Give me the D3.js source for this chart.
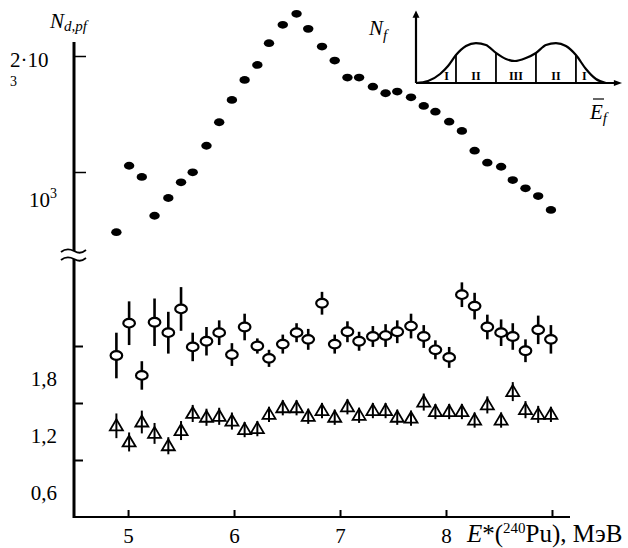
<!DOCTYPE html>
<html>
<head>
<meta charset="utf-8">
<script src="https://cdn.jsdelivr.net/npm/d3@7"></script>
<style>
  body { margin: 0; background: #fff; }
  svg { display: block; }
  text { font-family: "Liberation Serif", "Times New Roman", serif; fill: #000; }
</style>
</head>
<body>
<div id="chart"></div>
<script>
const SVG_WIDTH = 628;
const SVG_HEIGHT = 548;

// excitation energy of 240Pu, MeV (shared by all three series)
const ENERGY = [4.89, 5.01, 5.13, 5.25, 5.38, 5.50, 5.61, 5.74, 5.86, 5.98,
                6.10, 6.22, 6.33, 6.46, 6.59, 6.70, 6.83, 6.95, 7.07, 7.18,
                7.31, 7.43, 7.54, 7.67, 7.79, 7.90, 8.03, 8.15, 8.27, 8.39,
                8.52, 8.63, 8.75, 8.87, 8.99];

// upper panel (log scale), filled dots
const N_DPF = [698, 1038, 971, 770, 856, 940, 998, 1170, 1346, 1538,
               1734, 1896, 2159, 2409, 2573, 2352, 2116, 1946, 1758, 1758,
               1665, 1601, 1617, 1562, 1484, 1434, 1351, 1278, 1136, 1057,
               1032, 953, 907, 866, 797];

// lower panel, open circles
const CIRCLE_VAL = [2.30, 2.64, 2.09, 2.65, 2.54, 2.79, 2.39, 2.45, 2.54, 2.31,
                    2.60, 2.40, 2.27, 2.42, 2.54, 2.47, 2.85, 2.42, 2.55, 2.45,
                    2.50, 2.51, 2.55, 2.61, 2.50, 2.36, 2.28, 2.94, 2.82, 2.60,
                    2.54, 2.50, 2.35, 2.57, 2.47];
const CIRCLE_ERR = [0.24, 0.23, 0.15, 0.25, 0.22, 0.23, 0.15, 0.15, 0.13, 0.12,
                    0.14, 0.08, 0.09, 0.10, 0.10, 0.11, 0.12, 0.10, 0.11, 0.10,
                    0.11, 0.12, 0.12, 0.13, 0.12, 0.10, 0.11, 0.13, 0.14, 0.13,
                    0.14, 0.14, 0.12, 0.15, 0.15];

// lower panel, open triangles
const TRI_VAL = [1.56, 1.39, 1.60, 1.48, 1.35, 1.51, 1.69, 1.65, 1.66, 1.61,
                 1.52, 1.53, 1.68, 1.75, 1.75, 1.66, 1.72, 1.65, 1.76, 1.67,
                 1.72, 1.72, 1.65, 1.64, 1.81, 1.71, 1.71, 1.71, 1.62, 1.78,
                 1.62, 1.92, 1.73, 1.68, 1.68];
const TRI_ERR = [0.13, 0.10, 0.12, 0.11, 0.09, 0.10, 0.09, 0.09, 0.09, 0.09,
                 0.08, 0.08, 0.08, 0.08, 0.08, 0.08, 0.08, 0.08, 0.08, 0.08,
                 0.08, 0.08, 0.08, 0.08, 0.09, 0.08, 0.08, 0.08, 0.08, 0.09,
                 0.08, 0.10, 0.09, 0.09, 0.08];

const X_TICKS = [5, 6, 7, 8, 9];
const X_LABELS = ["5", "6", "7", "8", ""];
const UPPER_TICKS = [1000, 2000];
const LOWER_TICKS = [1.2, 1.8, 2.4];
const LOWER_LABELS = [0.6, 1.2, 1.8];

// inset: schematic fission yield N_f vs E_f, with zones I-II-III-II-I
const INSET_E = [0, 5.9, 11.8, 15.7, 19.6, 24.5, 29.4, 34.3, 39.2, 44.1, 48.5,
                 53.9, 58.8, 63.7, 68.6, 73.5, 78.4, 83.3, 88.2, 93.1];
const INSET_N = [0, 2.8, 12.7, 23.9, 39.4, 52.1, 56.3, 53.5, 42.3, 33.8, 31.0,
                 35.2, 42.3, 53.5, 56.3, 52.1, 39.4, 19.7, 5.6, 0];
const INSET_DIVIDERS = [19.6, 39.2, 58.8, 78.4];
const INSET_ZONES = ["I", "II", "III", "II", "I"];
const INSET_ZONE_E = [15, 29.4, 49, 68.6, 82.5];

const svg = d3.select("#chart")
    .append("svg")
    .attr("width", SVG_WIDTH)
    .attr("height", SVG_HEIGHT);

const AXIS_X = 74;
const BASE_Y = 517;

const x = d3.scaleLinear().domain([4.49, 9.17]).range([AXIS_X, 570]);
const yUp = d3.scaleLog().domain([1000, 2000]).range([172, 56]);
const yLow = d3.scaleLinear().domain([0.6, 2.4]).range([BASE_Y, 346]);

// axes lines
svg.append("line")
    .attr("x1", AXIS_X).attr("x2", AXIS_X)
    .attr("y1", 42).attr("y2", 251)
    .attr("stroke", "#000").attr("stroke-width", 3);
svg.append("line")
    .attr("x1", AXIS_X).attr("x2", AXIS_X)
    .attr("y1", 259).attr("y2", BASE_Y + 1)
    .attr("stroke", "#000").attr("stroke-width", 3);
svg.append("line")
    .attr("x1", AXIS_X).attr("x2", 570)
    .attr("y1", BASE_Y).attr("y2", BASE_Y)
    .attr("stroke", "#000").attr("stroke-width", 2);

// axis break marks
[251, 259].forEach(yy => {
    svg.append("path")
        .attr("d", `M61,${yy + 1} C66,${yy - 3} 70,${yy - 2} 74,${yy} S81,${yy + 3} 86,${yy - 1}`)
        .attr("fill", "none").attr("stroke", "#000").attr("stroke-width", 1.8);
});

// x axis ticks + labels
const xAxis = svg.append("g")
    .attr("transform", `translate(0,${BASE_Y})`)
    .call(d3.axisBottom(x).tickValues(X_TICKS).tickSize(-7).tickPadding(11)
        .tickFormat((d, i) => X_LABELS[i]));
xAxis.select(".domain").remove();
xAxis.selectAll(".tick line").attr("stroke-width", 2);
xAxis.selectAll(".tick text")
    .style("font-family", "'Liberation Serif', serif")
    .style("font-size", "21px");

const xTitle = svg.append("text")
    .attr("x", 467).attr("y", 542)
    .style("font-size", "25px");
xTitle.append("tspan").style("font-style", "italic").text("E");
xTitle.append("tspan").text("*(");
xTitle.append("tspan").attr("dy", -9).style("font-size", "15px").text("240");
xTitle.append("tspan").attr("dy", 9).text("Pu), МэВ");

// upper y ticks
const upAxis = svg.append("g")
    .attr("transform", `translate(${AXIS_X},0)`)
    .call(d3.axisLeft(yUp).tickValues(UPPER_TICKS).tickSize(-12).tickFormat(""));
upAxis.select(".domain").remove();
upAxis.selectAll(".tick line").attr("stroke-width", 1.5);

// lower y ticks
const lowAxis = svg.append("g")
    .attr("transform", `translate(${AXIS_X},0)`)
    .call(d3.axisLeft(yLow).tickValues(LOWER_TICKS).tickSize(-9).tickFormat(""));
lowAxis.select(".domain").remove();
lowAxis.selectAll(".tick line").attr("stroke-width", 2);

// y labels (placed as in the original print, a little off their ticks)
svg.append("text")
    .attr("x", 10).attr("y", yUp(2000) + 11)
    .style("font-size", "21px")
    .text("2·10");
svg.append("text")
    .attr("x", 10).attr("y", yUp(2000) + 30)
    .style("font-size", "14px")
    .text("3");
const lbl1k = svg.append("text")
    .attr("x", 29).attr("y", yUp(1000) + 35)
    .style("font-size", "21px");
lbl1k.append("tspan").text("10");
lbl1k.append("tspan").attr("dy", -9).style("font-size", "14px").text("3");

svg.selectAll(".low-label")
    .data(LOWER_LABELS)
    .join("text")
    .attr("class", "low-label")
    .attr("x", 57)
    .attr("y", d => yLow(d) - 24)
    .attr("dy", "0.35em")
    .attr("text-anchor", "end")
    .style("font-size", "21px")
    .text(d => d3.format(".1f")(d).replace(".", ","));

// y title N_d,pf
const yTitle = svg.append("text")
    .attr("x", 50).attr("y", 28)
    .style("font-size", "21px").style("font-style", "italic");
yTitle.append("tspan").text("N");
yTitle.append("tspan").attr("dy", 3).style("font-size", "15px").text("d,pf");

// upper series: filled dots
svg.append("g")
    .selectAll("ellipse")
    .data(ENERGY)
    .join("ellipse")
    .attr("cx", d => x(d))
    .attr("cy", (d, i) => yUp(N_DPF[i]))
    .attr("rx", 5.2).attr("ry", 3.9)
    .attr("fill", "#000");

// lower series: circles with error bars
const circ = svg.append("g").selectAll("g")
    .data(ENERGY)
    .join("g");
circ.append("line")
    .attr("x1", d => x(d)).attr("x2", d => x(d))
    .attr("y1", (d, i) => yLow(CIRCLE_VAL[i] + CIRCLE_ERR[i]))
    .attr("y2", (d, i) => yLow(CIRCLE_VAL[i] - CIRCLE_ERR[i]))
    .attr("stroke", "#000").attr("stroke-width", 2.6);
circ.append("ellipse")
    .attr("cx", d => x(d))
    .attr("cy", (d, i) => yLow(CIRCLE_VAL[i]))
    .attr("rx", 5.8).attr("ry", 4.3)
    .attr("fill", "#fff").attr("stroke", "#000").attr("stroke-width", 2.2);

// lower series: triangles with error bars
const tri = svg.append("g").selectAll("g")
    .data(ENERGY)
    .join("g");
tri.append("path")
    .attr("d", (d, i) => {
        const cx = x(d), cy = yLow(TRI_VAL[i]);
        return `M${cx},${cy - 6.5} L${cx + 6.5},${cy + 4.5} L${cx - 6.5},${cy + 4.5} Z`;
    })
    .attr("fill", "#fff").attr("stroke", "#000").attr("stroke-width", 1.8);
tri.append("line")
    .attr("x1", d => x(d)).attr("x2", d => x(d))
    .attr("y1", (d, i) => yLow(TRI_VAL[i] + TRI_ERR[i]))
    .attr("y2", (d, i) => yLow(TRI_VAL[i] - TRI_ERR[i]))
    .attr("stroke", "#000").attr("stroke-width", 2);

// inset
const ix = d3.scaleLinear().domain([0, 100]).range([416, 620]);
const iy = d3.scaleLinear().domain([0, 100]).range([83, 12]);
const inset = svg.append("g");

inset.append("line")
    .attr("x1", ix(0)).attr("x2", ix(0)).attr("y1", iy(0)).attr("y2", iy(96))
    .attr("stroke", "#000").attr("stroke-width", 2.2);
inset.append("path")
    .attr("d", `M${ix(0) - 3.5},${iy(92)} L${ix(0)},${iy(102)} L${ix(0) + 3.5},${iy(92)} Z`);
inset.append("line")
    .attr("x1", ix(0)).attr("x2", ix(98)).attr("y1", iy(0)).attr("y2", iy(0))
    .attr("stroke", "#000").attr("stroke-width", 2.2);
inset.append("path")
    .attr("d", `M${ix(97)},${iy(0) - 3} L${ix(101)},${iy(0)} L${ix(97)},${iy(0) + 3} Z`);

inset.append("path")
    .datum(INSET_E)
    .attr("d", d3.line().x(d => ix(d)).y((d, i) => iy(INSET_N[i])).curve(d3.curveMonotoneX))
    .attr("fill", "none").attr("stroke", "#000").attr("stroke-width", 2.2);

inset.selectAll(".div")
    .data(INSET_DIVIDERS)
    .join("line")
    .attr("class", "div")
    .attr("x1", d => ix(d)).attr("x2", d => ix(d))
    .attr("y1", iy(0))
    .attr("y2", d => iy(INSET_N[INSET_E.indexOf(d)]))
    .attr("stroke", "#000").attr("stroke-width", 1.8);

inset.selectAll(".zone")
    .data(INSET_ZONES)
    .join("text")
    .attr("class", "zone")
    .attr("x", (d, i) => ix(INSET_ZONE_E[i]))
    .attr("y", iy(4))
    .attr("text-anchor", "middle")
    .style("font-size", "12px").style("font-weight", "bold")
    .text(d => d);

const nf = svg.append("text")
    .attr("x", 369).attr("y", 35)
    .style("font-size", "21px").style("font-style", "italic");
nf.append("tspan").text("N");
nf.append("tspan").attr("dy", 5).style("font-size", "15px").text("f");

const ef = svg.append("text")
    .attr("x", 590).attr("y", 119)
    .style("font-size", "21px").style("font-style", "italic");
ef.append("tspan").text("E");
ef.append("tspan").attr("dy", 4).style("font-size", "15px").text("f");
svg.append("line")
    .attr("x1", 593).attr("x2", 604).attr("y1", 99).attr("y2", 99)
    .attr("stroke", "#000").attr("stroke-width", 1.2);
</script>
</body>
</html>
